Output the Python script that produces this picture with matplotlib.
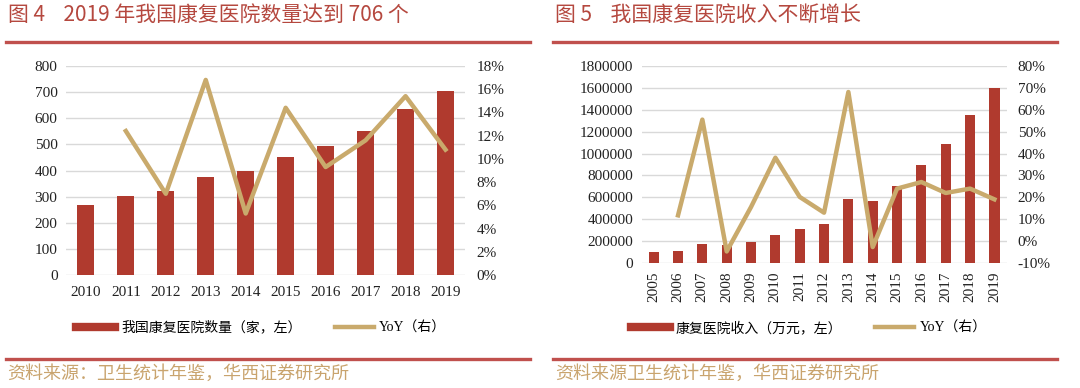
import numpy as np
import matplotlib.pyplot as plt
from matplotlib.lines import Line2D
from matplotlib.ticker import FuncFormatter

plt.rcParams['axes.unicode_minus'] = False

# 图4 数据
anios1 = ["2010", "2011", "2012", "2013", "2014", "2015", "2016", "2017", "2018", "2019"]
numero = [268, 302, 323, 376, 397, 453, 495, 552, 637, 706]
yoy1 = [np.nan, 12.4, 7.0, 16.8, 5.3, 14.4, 9.3, 11.6, 15.4, 10.8]

# 图5 数据
anios2 = ["2005", "2006", "2007", "2008", "2009", "2010", "2011", "2012",
          "2013", "2014", "2015", "2016", "2017", "2018", "2019"]
ingreso = [100000, 110000, 173000, 165000, 189000, 259000, 307000, 353000,
           585000, 569000, 703000, 893000, 1090000, 1350000, 1600000]
yoy2 = [np.nan, 11.8, 55.5, -4.7, 15.6, 38.1, 20.2, 13.0, 68.1, -2.7,
        24.0, 27.0, 22.0, 24.0, 19.1]

rojo = "#b03a2e"
oro = "#c9aa6c"
titulo_color = "#b5483f"
linea_color = "#c0504d"
fuente_color = "#c9a46e"
cjk = ['Noto Sans CJK SC', 'DejaVu Sans']
serif = ['Liberation Serif', 'Noto Sans CJK SC']

fig = plt.figure(figsize=(10.8, 3.88), dpi=100)


def panel(rect, cats, barras, yoy, ylim, yticks, ylim2, yticks2, rot):
	ax = fig.add_axes(rect)
	x = np.arange(len(cats))
	ax.bar(x, barras, width=0.42, color=rojo, zorder=2)
	ax.set_xlim(-0.5, len(cats) - 0.5)
	ax.set_ylim(*ylim)
	ax.set_yticks(yticks)
	ax.yaxis.set_major_formatter(FuncFormatter(lambda v, p: "%d" % v))
	ax.set_xticks(x)
	ax.set_xticklabels(cats, rotation=rot, family='Liberation Serif', fontsize=11)
	for t in ax.get_yticklabels():
		t.set_family('Liberation Serif')
		t.set_fontsize(11)
	ax.grid(axis='y', color='#d9d9d9', lw=1, zorder=0)
	ax.tick_params(length=0, pad=6, colors='#222222')
	for s in ax.spines.values():
		s.set_visible(False)

	ax2 = ax.twinx()
	ax2.plot(x, yoy, color=oro, lw=3.2, zorder=3)
	ax2.set_ylim(*ylim2)
	ax2.set_yticks(yticks2)
	ax2.yaxis.set_major_formatter(FuncFormatter(lambda v, p: "%d%%" % round(v)))
	for t in ax2.get_yticklabels():
		t.set_family('Liberation Serif')
		t.set_fontsize(11)
	ax2.tick_params(length=0, pad=8, colors='#222222')
	for s in ax2.spines.values():
		s.set_visible(False)
	return ax, ax2


ax, ax2 = panel([0.061, 0.291, 0.370, 0.539], anios1, numero, yoy1,
                (0, 800), np.arange(0, 801, 100), (0, 18), np.arange(0, 19, 2), 0)
ax.tick_params(axis='x', pad=8)

bx, bx2 = panel([0.594, 0.322, 0.338, 0.508], anios2, ingreso, yoy2,
                (0, 1800000), np.arange(0, 1800001, 200000), (-10, 80), np.arange(-10, 81, 10), 90)

# leyendas
for cx, lab in [(0.242, "我国康复医院数量（家，左）"), (0.749, "康复医院收入（万元，左）")]:
	h = [Line2D([], [], color=rojo, lw=6), Line2D([], [], color=oro, lw=3.2)]
	fig.legend(h, [lab, "YoY（右）"], loc='center', bbox_to_anchor=(cx, 0.155),
	           ncol=2, frameon=False, handlelength=2.8, handletextpad=0.4,
	           columnspacing=2.4, prop={'family': serif, 'size': 10})

# titulos, lineas y fuentes
fig.text(0.007, 0.962, "图 4    2019 年我国康复医院数量达到 706 个", family=cjk,
         fontsize=15, color=titulo_color, va='center')
fig.text(0.514, 0.962, "图 5    我国康复医院收入不断增长", family=cjk,
         fontsize=15, color=titulo_color, va='center')
for x0, x1 in [(0.006, 0.491), (0.512, 0.979)]:
	fig.add_artist(Line2D([x0, x1], [0.892, 0.892], color=linea_color, lw=2.4))
	fig.add_artist(Line2D([x0, x1], [0.076, 0.076], color=linea_color, lw=2.4))
fig.text(0.007, 0.036, "资料来源：卫生统计年鉴，华西证券研究所", family=cjk,
         fontsize=13, color=fuente_color, va='center')
fig.text(0.514, 0.036, "资料来源卫生统计年鉴，华西证券研究所", family=cjk,
         fontsize=13, color=fuente_color, va='center')

plt.savefig("out.png", dpi=100)
